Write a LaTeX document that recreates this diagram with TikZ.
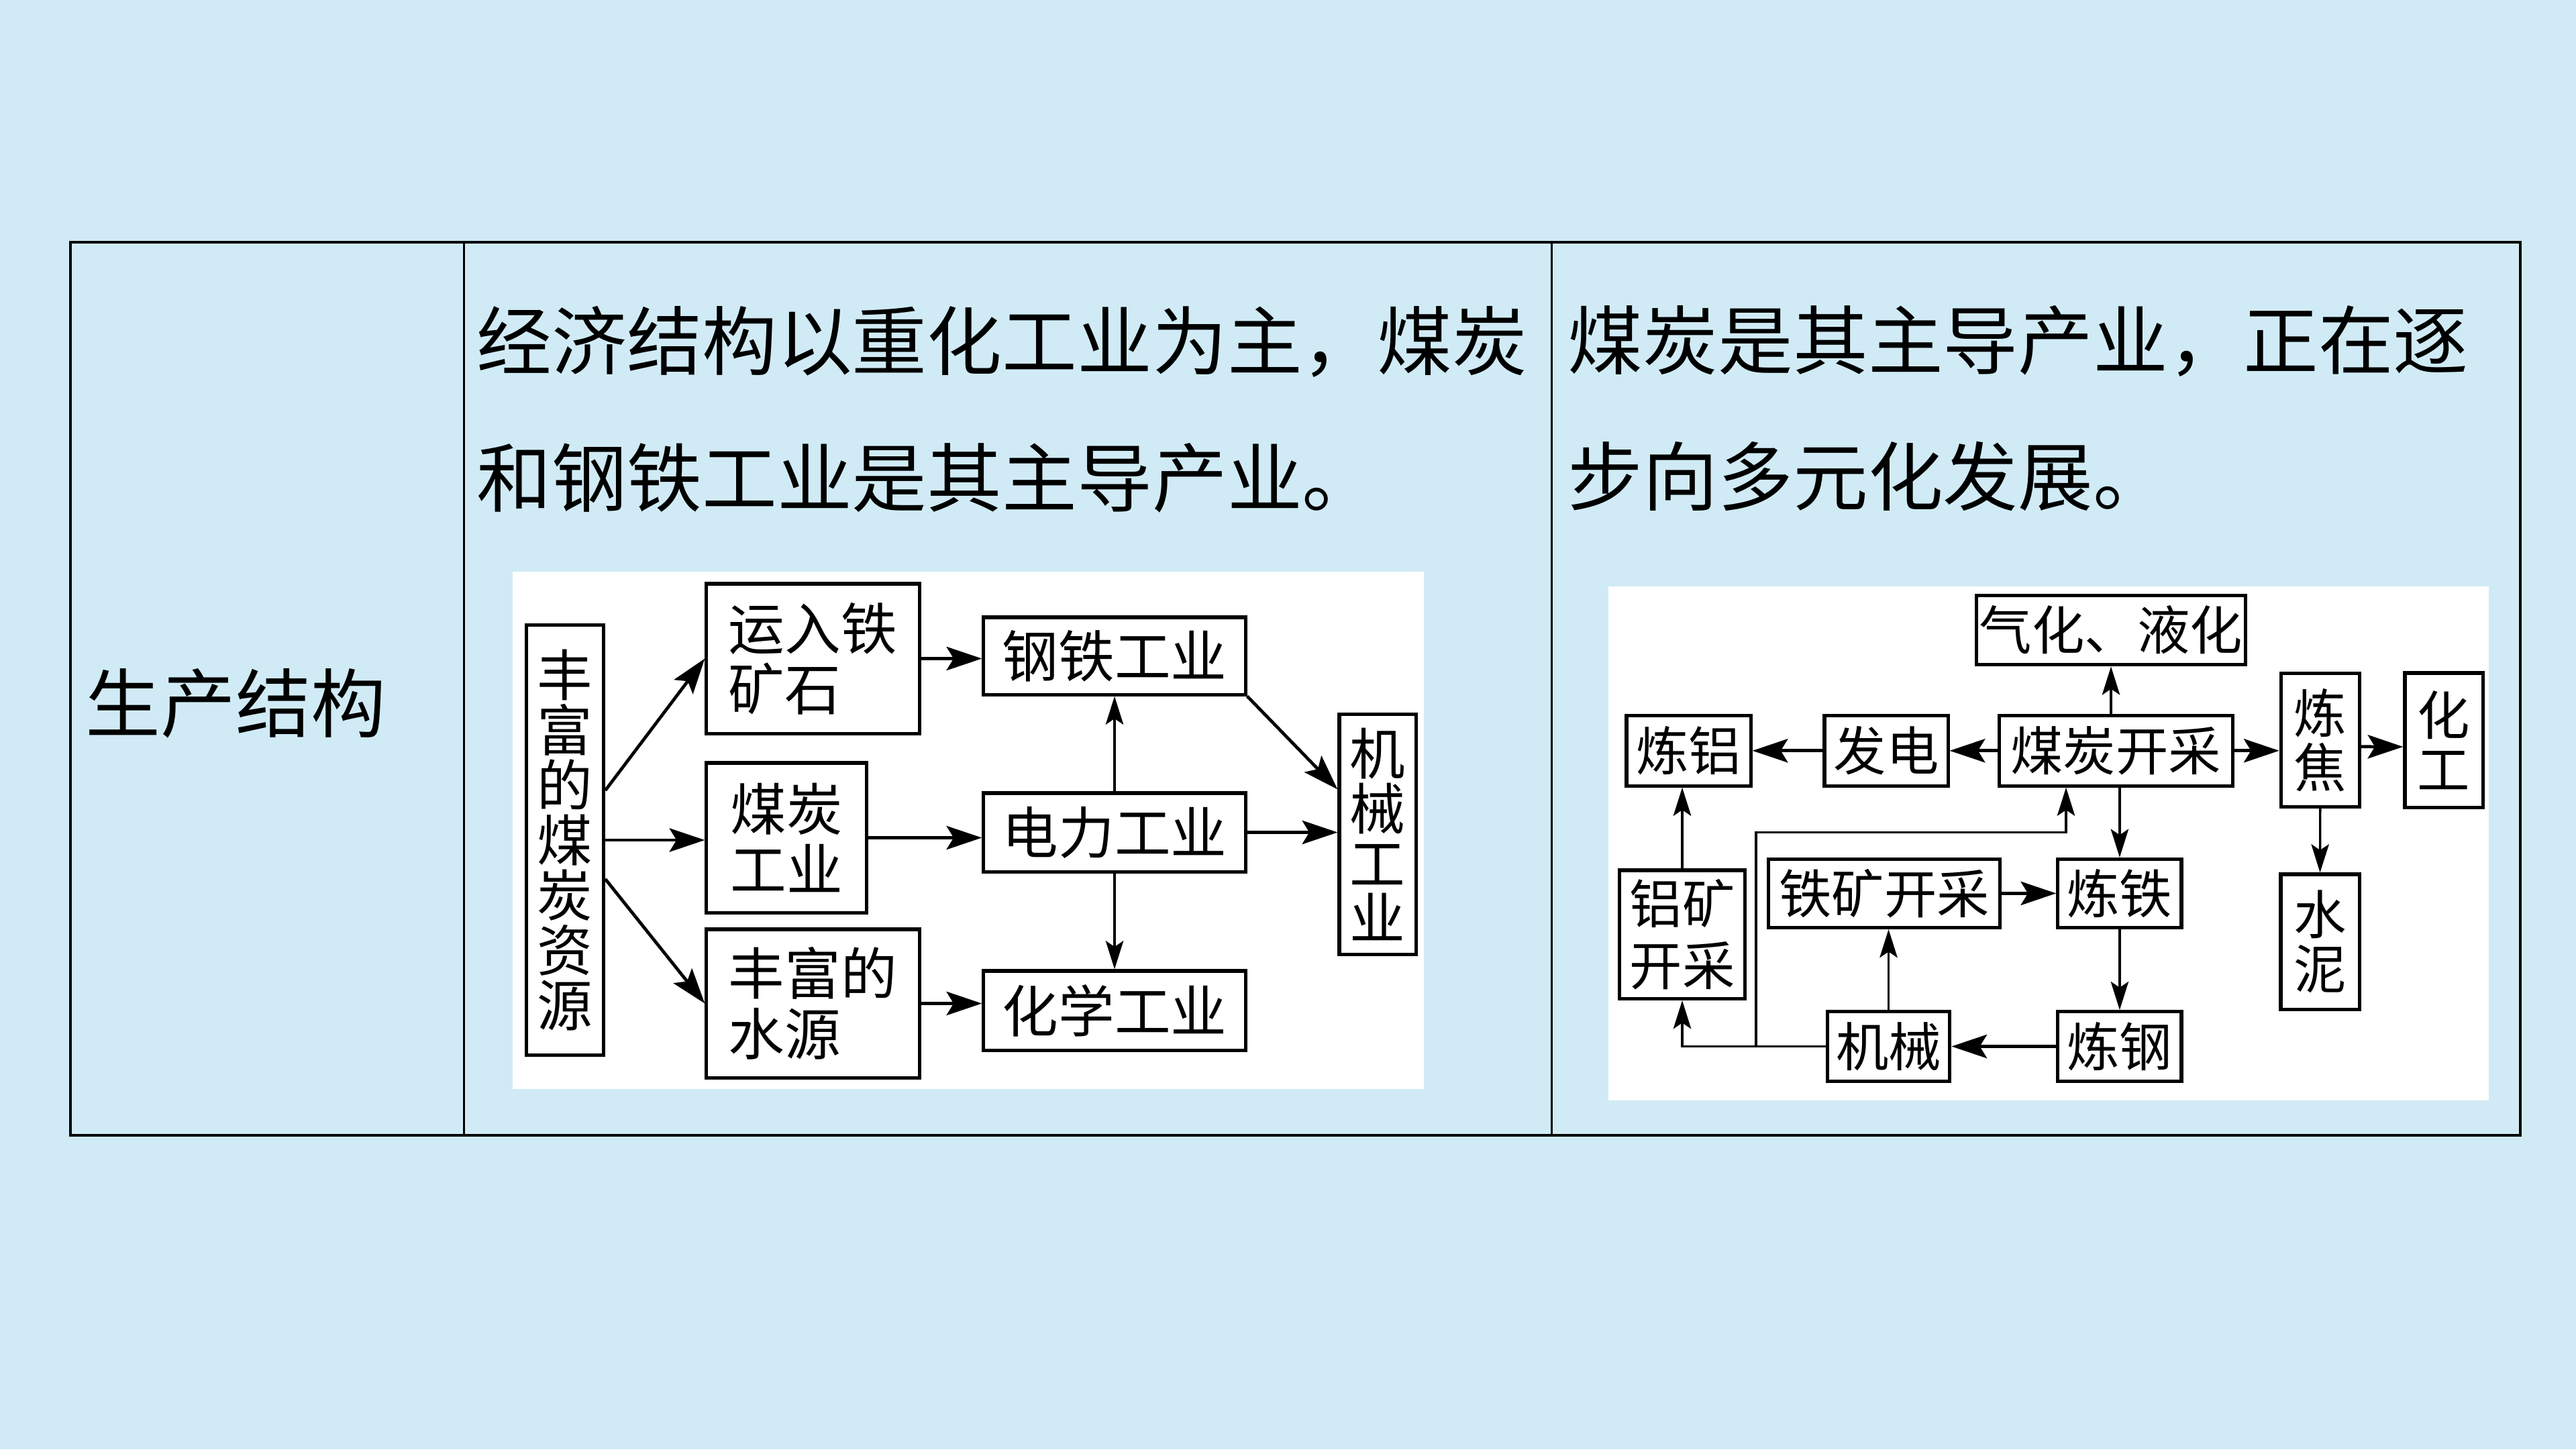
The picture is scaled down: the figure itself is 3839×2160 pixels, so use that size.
\documentclass[tikz,border=0pt]{standalone}
\usepackage{fontspec}
\newfontfamily\cjk{Noto Sans CJK SC}
\usetikzlibrary{arrows.meta}
\definecolor{slide}{RGB}{208,235,245}
\begin{document}
\begin{tikzpicture}[x=0.01cm,y=-0.01cm,
  head/.style={inner sep=0pt,font=\cjk\fontsize{31.8pt}{38pt}\selectfont},
  tbl/.style={draw=black,line width=0.9pt},
  lbox/.style={draw=black,line width=1.45pt,fill=white,inner sep=0pt,align=center,
    font=\cjk\fontsize{23.8pt}{25.6pt}\selectfont},
  lvert/.style={lbox,font=\cjk\fontsize{23.5pt}{23.3pt}\selectfont},
  rbox/.style={draw=black,line width=1.45pt,fill=white,inner sep=0pt,align=center,
    font=\cjk\fontsize{22.3pt}{26pt}\selectfont},
  rvert/.style={rbox,font=\cjk\fontsize{22.3pt}{23pt}\selectfont},
  harr/.style={line width=1.35pt,-{Stealth[length=15pt,width=10pt,inset=3pt]}},
  varr/.style={line width=0.95pt,-{Stealth[length=12pt,width=7.5pt,inset=2.5pt]}}]

% page and table
\useasboundingbox (0,0) rectangle (3839,2160);
\fill[slide] (0,0) rectangle (3839,2160);
\draw[tbl] (105,361) rectangle (3756,1692);
\draw[tbl] (691.5,361) -- (691.5,1692);
\draw[tbl] (2312.5,361) -- (2312.5,1692);

% cell texts
\node[head,anchor=west] (lab) at (127,1048) {生产结构};
\node[head,anchor=west] (t1) at (710,509) {经济结构以重化工业为主，煤炭};
\node[head,anchor=west] (t2) at (710,712) {和钢铁工业是其主导产业。};
\node[head,anchor=west] (t3) at (2336,508) {煤炭是其主导产业，正在逐};
\node[head,anchor=west] (t4) at (2336,710) {步向多元化发展。};

% ---------- left flow chart ----------
\fill[white] (764,852) rectangle (2122,1623);

\node[lvert,minimum width=1.15cm,minimum height=6.40cm] (src) at (842,1252)
  {丰\\富\\的\\煤\\炭\\资\\源};
\node[lbox,align=left,minimum width=3.17cm,minimum height=2.23cm] (ore) at (1211.5,981.5)
  {运入铁\\矿石\hphantom{铁}};
\node[lbox,minimum width=2.38cm,minimum height=2.23cm] (coal) at (1172,1248.5)
  {煤炭\\工业};
\node[lbox,align=left,minimum width=3.17cm,minimum height=2.21cm] (water) at (1211.5,1495.5)
  {丰富的\\水源\hphantom{的}};
\node[lbox,minimum width=3.90cm,minimum height=1.15cm] (steel) at (1661,977.5) {钢铁工业};
\node[lbox,minimum width=3.90cm,minimum height=1.17cm] (power) at (1661,1240.5) {电力工业};
\node[lbox,minimum width=3.90cm,minimum height=1.18cm] (chem) at (1661,1506) {化学工业};
\node[lvert,minimum width=1.14cm,minimum height=3.57cm] (mach) at (2053,1243.5)
  {机\\械\\工\\业};

\draw[harr] ([yshift=0.74cm]src.east) -- (ore.west);
\draw[harr] (src.east) -- (src.east -| coal.west);
\draw[harr] ([yshift=-0.58cm]src.east) -- (water.west);
\draw[harr] (ore.east) -- (ore.east -| steel.west);
\draw[harr] (coal.east) -- (coal.east -| power.west);
\draw[harr] (water.east) -- (water.east -| chem.west);
\draw[varr] (power.north) -- (steel.south);
\draw[varr] (power.south) -- (chem.north);
\draw[harr] (steel.south east) -- ([yshift=0.67cm]mach.west);
\draw[harr] (power.east) -- (power.east -| mach.west);

% ---------- right flow chart ----------
\fill[white] (2397,874) rectangle (3709,1640);

\node[rbox,minimum width=4.01cm,minimum height=1.035cm] (gas) at (3146,939) {气化、液化};
\node[rbox,minimum width=1.85cm,minimum height=1.045cm] (alu) at (2516.5,1118.8) {炼铝};
\node[rbox,minimum width=1.84cm,minimum height=1.045cm] (elec) at (2811,1118.8) {发电};
\node[rbox,minimum width=3.48cm,minimum height=1.045cm] (mine) at (3153.3,1118.8) {煤炭开采};
\node[rvert,minimum width=1.17cm,minimum height=1.99cm] (coke) at (3457.8,1102.8) {炼\\焦};
\node[rvert,minimum width=1.16cm,minimum height=2.00cm] (chemr) at (3642,1103) {化\\工};
\node[rvert,minimum width=1.17cm,minimum height=2.01cm] (cement) at (3457.5,1403.5) {水\\泥};
\node[rbox,minimum width=1.866cm,minimum height=1.914cm] (alumine) at (2507,1392.7) {铝矿\\开采};
\node[rbox,minimum width=3.44cm,minimum height=1.02cm] (ironmine) at (2808,1331.4) {铁矿开采};
\node[rbox,minimum width=1.84cm,minimum height=1.02cm] (ironsm) at (3158.9,1331.4) {炼铁};
\node[rbox,minimum width=1.824cm,minimum height=1.035cm] (machr) at (2814.5,1559.5) {机械};
\node[rbox,minimum width=1.84cm,minimum height=1.035cm] (steelsm) at (3158.9,1559.5) {炼钢};

\coordinate (jn) at (2617,1559.5);
\coordinate (turn) at (3079,1240.6);

\draw[varr] (gas.south |- mine.north) -- (gas.south);
\draw[harr] (mine.west) -- (elec.east);
\draw[harr] (elec.west) -- (alu.east);
\draw[harr] (mine.east) -- (mine.east -| coke.west);
\draw[harr] ([yshift=-0.1cm]coke.east) -- ([yshift=-0.1cm]chemr.west);
\draw[varr] (coke.south) -- (cement.north);
\draw[varr] (ironsm.north |- mine.south) -- (ironsm.north);
\draw[harr] (ironmine.east) -- (ironsm.west);
\draw[varr] (ironsm.south) -- (steelsm.north);
\draw[harr] (steelsm.west) -- (machr.east);
\draw[varr] (machr.north) -- (machr.north |- ironmine.south);
\draw[varr] (alumine.north) -- (alumine.north |- alu.south);
\draw[varr] (machr.west) -- (alumine.south |- machr.west) -- (alumine.south);
\draw[varr] (jn) |- (turn) -- (turn |- mine.south);

\end{tikzpicture}
\end{document}
